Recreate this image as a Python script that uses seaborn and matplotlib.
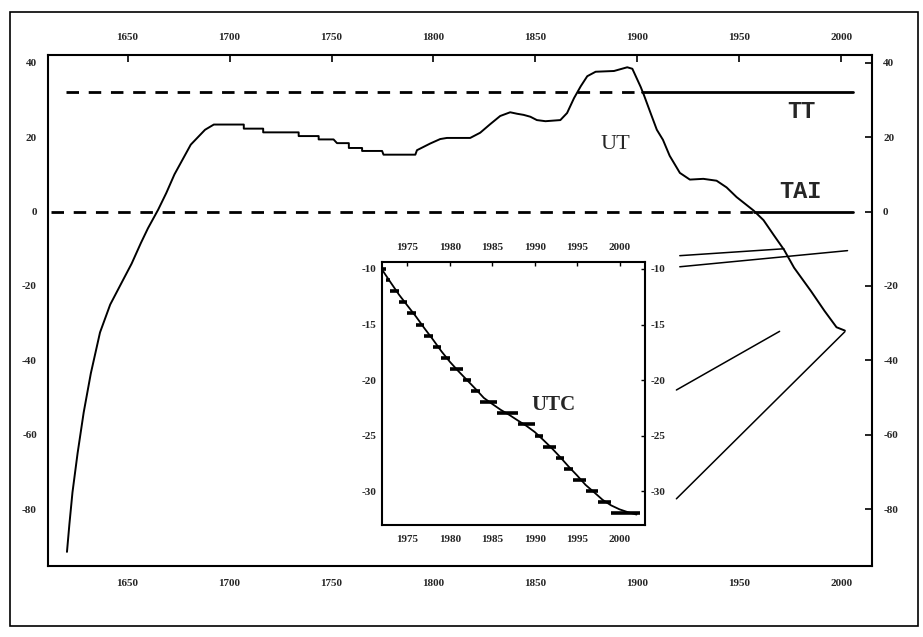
import numpy as np
import pandas as pd
import matplotlib
matplotlib.use("Agg")
import matplotlib.pyplot as plt
import seaborn as sns
from matplotlib.patches import ConnectionPatch, Rectangle

# ---------------- data ----------------
ut_year = [1620.3, 1621.5, 1623.0, 1625.5, 1628.5, 1632.0, 1636.5, 1641.5, 1647.5,
           1652.0, 1656.5, 1660.0, 1665.0, 1669.0, 1673.0, 1677.0, 1681.0, 1684.5,
           1688.0, 1692.3, 1707.0, 1707.0, 1716.5, 1716.5, 1733.9, 1733.9, 1743.7,
           1743.7, 1751.0, 1752.7, 1758.5, 1758.5, 1765.0, 1765.0, 1774.8, 1775.5,
           1791.1, 1791.9, 1798.4, 1803.3, 1806.6, 1818.0, 1822.9, 1827.8, 1832.7,
           1837.6, 1841.0, 1844.2, 1847.5, 1850.7, 1854.9, 1862.2, 1865.5, 1868.9,
           1872.2, 1875.4, 1879.5, 1888.5, 1895.0, 1897.5, 1901.6, 1903.2, 1906.5,
           1909.5, 1912.5, 1915.8, 1920.8, 1925.7, 1932.3, 1938.8, 1943.7, 1948.6,
           1956.9, 1961.8, 1966.8, 1971.9, 1976.8, 1985.1, 1991.7, 1997.6, 2001.7]
ut_value = [-91.5, -84.0, -75.5, -65.0, -54.0, -43.5, -32.5, -25.0, -18.7,
            -14.0, -8.5, -4.5, 0.5, 5.0, 10.0, 14.0, 18.0, 20.0,
            22.0, 23.4, 23.4, 22.3, 22.3, 21.3, 21.3, 20.3, 20.3,
            19.4, 19.4, 18.4, 18.4, 17.1, 17.1, 16.3, 16.3, 15.3,
            15.3, 16.5, 18.3, 19.5, 19.8, 19.8, 21.2, 23.5, 25.7,
            26.7, 26.3, 26.0, 25.5, 24.6, 24.3, 24.6, 26.5, 30.5,
            33.7, 36.4, 37.6, 37.8, 38.8, 38.4, 33.5, 31.3, 26.4,
            22.0, 19.3, 15.0, 10.4, 8.6, 8.8, 8.3, 6.5, 3.9,
            0.3, -2.3, -6.3, -10.3, -15.1, -21.4, -26.7, -31.1, -32.0]

tt_level = 32.2
tt_dashed_years = [1620.0, 1902.0]
tt_solid_years = [1902.0, 2005.5]
tai_level = 0.0
tai_dashed_years = [1612.5, 1957.0]
tai_solid_years = [1957.0, 2005.5]

# inset: UT1 - TAI (yearly) and UTC - TAI steps
inset_year = list(range(1972, 2003))
ut1_tai = [-10.05, -11.19, -12.31, -13.30, -14.28, -15.34, -16.35, -17.41, -18.36,
           -19.20, -19.99, -20.78, -21.61, -22.16, -22.69, -23.14, -23.64, -24.12,
           -24.68, -25.39, -26.13, -26.94, -27.80, -28.60, -29.45, -30.11, -30.79,
           -31.29, -31.65, -31.91, -32.12]
leap_year = [1972.0, 1972.5, 1973.0, 1974.0, 1975.0, 1976.0, 1977.0, 1978.0, 1979.0,
             1980.0, 1981.5, 1982.5, 1983.5, 1985.5, 1988.0, 1990.0, 1991.0, 1992.5,
             1993.5, 1994.5, 1996.0, 1997.5, 1999.0]
utc_tai = [-10, -11, -12, -13, -14, -15, -16, -17, -18, -19, -20, -21, -22, -23,
           -24, -25, -26, -27, -28, -29, -30, -31, -32]
utc_last_end = 2002.4

main_xticks = [1650, 1700, 1750, 1800, 1850, 1900, 1950, 2000]
main_yticks = [-80, -60, -40, -20, 0, 20, 40]
inset_xticks = [1975, 1980, 1985, 1990, 1995, 2000]
inset_yticks = [-30, -25, -20, -15, -10]

# zoom-indicator connections: (inset x, inset y) -> (main x, main y)
conn_inset = [(2007.1, -8.8), (2007.1, -9.8), (2006.7, -20.9), (2006.7, -30.7)]
conn_main = [(1971.8, -10.0), (2003.0, -10.5), (1969.7, -32.2), (2001.7, -32.3)]

# ---------------- style ----------------
sns.set_theme(style="white")
plt.rcParams["font.family"] = ["Liberation Serif", "DejaVu Serif"]
plt.rcParams["axes.unicode_minus"] = False
plt.rcParams["axes.edgecolor"] = "black"
plt.rcParams["axes.linewidth"] = 1.5

W, H = 923, 637
fig = plt.figure(figsize=(W / 100, H / 100), dpi=100)
fig.patch.set_facecolor("white")

ax = fig.add_axes([48 / W, 1 - 566 / H, (872 - 48) / W, (566 - 55) / H])
ax.set_xlim(1611, 2015)
ax.set_ylim(-95.3, 42.1)

black = "black"
sns.lineplot(x=ut_year, y=ut_value, ax=ax, color=black, lw=1.4,
             estimator=None, sort=False)
dash = (0, (4.5, 3.5))
sns.lineplot(x=tt_dashed_years, y=[tt_level] * 2, ax=ax, color=black, lw=2.0,
             estimator=None, sort=False, linestyle=dash)
sns.lineplot(x=tt_solid_years, y=[tt_level] * 2, ax=ax, color=black, lw=2.0,
             estimator=None, sort=False)
sns.lineplot(x=tai_dashed_years, y=[tai_level] * 2, ax=ax, color=black, lw=2.0,
             estimator=None, sort=False, linestyle=dash)
sns.lineplot(x=tai_solid_years, y=[tai_level] * 2, ax=ax, color=black, lw=2.0,
             estimator=None, sort=False)

tick_font = dict(fontsize=8, fontweight="bold")
ax.set_xticks(main_xticks)
ax.set_yticks(main_yticks)
ax.set_xticklabels([str(v) for v in main_xticks], **tick_font)
ax.set_yticklabels([str(v) for v in main_yticks], **tick_font)
ax.tick_params(axis="both", direction="in", length=5, width=1.2, color=black,
               top=True, right=True, labeltop=True, labelright=True)
ax.tick_params(axis="x", pad=9)
ax.tick_params(axis="y", pad=8)
for lab in ax.get_xticklabels(which="both") + ax.get_yticklabels():
    lab.set_fontweight("bold")
ax.set_xlabel("")
ax.set_ylabel("")

ax.text(1980.6, 26.9, "TT", fontsize=17, fontweight="bold",
        family=["Liberation Mono", "DejaVu Sans Mono"], ha="center", va="center")
ax.text(1979.7, 5.5, "TAI", fontsize=17, fontweight="bold",
        family=["Liberation Mono", "DejaVu Sans Mono"], ha="center", va="center")
ax.text(1889.0, 18.1, "UT", fontsize=16, ha="center", va="center")

# ---------------- inset ----------------
axins = fig.add_axes([382 / W, 1 - 525 / H, (645 - 382) / W, (525 - 262) / H])
axins.set_xlim(1972, 2003)
axins.set_ylim(-33.06, -9.37)
sns.lineplot(x=inset_year, y=ut1_tai, ax=axins, color=black, lw=1.3,
             estimator=None, sort=False)
step_ends = leap_year[1:] + [utc_last_end]
axins.hlines(utc_tai, leap_year, step_ends, colors=black, lw=2.6)
axins.set_xticks(inset_xticks)
axins.set_yticks(inset_yticks)
axins.set_xticklabels([str(v) for v in inset_xticks], **tick_font)
axins.set_yticklabels([str(v) for v in inset_yticks], **tick_font)
axins.tick_params(axis="both", direction="in", length=3, width=1.0, color=black,
                  top=True, right=True, labeltop=True, labelright=True)
axins.tick_params(axis="x", pad=7)
axins.tick_params(axis="y", pad=4)
axins.set_xlabel("")
axins.set_ylabel("")
axins.text(1992.2, -22.25, "UTC", fontsize=15, fontweight="bold",
           ha="center", va="center")

for (xa, ya), (xb, yb) in zip(conn_inset, conn_main):
    con = ConnectionPatch(xyA=(xa, ya), coordsA=axins.transData,
                          xyB=(xb, yb), coordsB=ax.transData,
                          color=black, lw=1.1)
    fig.add_artist(con)

# page border of the scan
fig.add_artist(Rectangle((10 / W, 1 - 626 / H), (918 - 10) / W, (626 - 12) / H,
                         transform=fig.transFigure, fill=False, lw=1.2,
                         ec=black))

fig.savefig("out.png", dpi=100, facecolor="white")
